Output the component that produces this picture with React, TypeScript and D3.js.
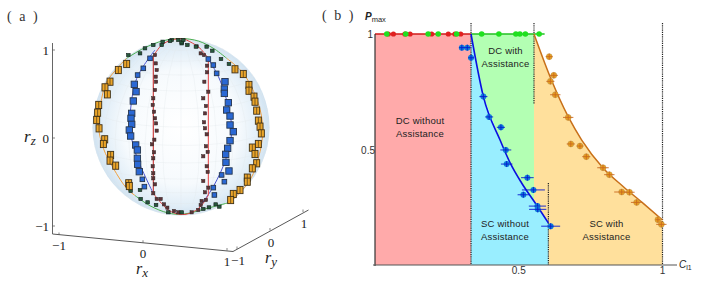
import React from "react";
import * as d3 from "d3";

type Pt = [number, number];

const sphereOrange: Pt[] = [
  [-0.614, 0.712], [-0.708, 0.644], [-0.802, 0.512], [-0.859, 0.448], [-0.832, 0.369], [-0.93, 0.249],
  [-0.942, 0.162], [-0.953, 0.079], [-0.926, -0.015], [-0.862, -0.139], [-0.877, -0.192], [-0.795, -0.316],
  [-0.802, -0.38], [-0.738, -0.437], [-0.591, -0.636], [-0.584, -0.667],
  [0.61, 0.652], [0.704, 0.599], [0.768, 0.475], [0.768, 0.41], [0.825, 0.343], [0.836, 0.286],
  [0.855, 0.185], [0.874, 0.072], [0.893, 0.004], [0.908, -0.072], [0.874, -0.192], [0.806, -0.233],
  [0.836, -0.305], [0.855, -0.41], [0.806, -0.467], [0.749, -0.572], [0.749, -0.618], [0.667, -0.712],
  [0.591, -0.757], [0.561, -0.825],
];
const sphereBlue: Pt[] = [
  [-0.35, 0.776], [-0.426, 0.663], [-0.49, 0.587], [-0.527, 0.482], [-0.508, 0.399], [-0.539, 0.294],
  [-0.557, 0.154], [-0.565, 0.098], [-0.557, 0.03], [-0.584, -0.034], [-0.569, -0.102], [-0.512, -0.203],
  [-0.493, -0.26], [-0.493, -0.354], [-0.49, -0.422], [-0.471, -0.505], [-0.437, -0.591], [-0.414, -0.674],
  [0.309, 0.768], [0.365, 0.7], [0.403, 0.606], [0.497, 0.512], [0.49, 0.429], [0.49, 0.38],
  [0.535, 0.275], [0.516, 0.192], [0.554, 0.124], [0.554, 0.023], [0.591, -0.053], [0.554, -0.154],
  [0.527, -0.241], [0.505, -0.309], [0.508, -0.399], [0.542, -0.497], [0.459, -0.542], [0.49, -0.618],
  [0.365, -0.685], [0.377, -0.768],
];
// sizes shrink toward the poles in the reference
const blueSmallFrom = new Set([0, 1, 2, 18, 19, 20, 34, 35, 36, 37, 16, 17]);
const sphereMaroon: Pt[] = [
  [-0.294, 0.813], [-0.286, 0.719], [-0.275, 0.644], [-0.286, 0.569], [-0.282, 0.512], [-0.294, 0.418],
  [-0.313, 0.324], [-0.32, 0.249], [-0.305, 0.173], [-0.294, 0.098], [-0.282, 0.041], [-0.275, -0.041],
  [-0.301, -0.143], [-0.328, -0.196], [-0.305, -0.286], [-0.313, -0.354], [-0.32, -0.444], [-0.313, -0.523],
  [-0.313, -0.58], [-0.294, -0.648], [-0.313, -0.749], [-0.275, -0.813], [-0.23, -0.813], [-0.192, -0.874],
  [-0.154, -0.911], [-0.079, -0.949], [-0.03, -0.964],
  [0.177, 0.911], [0.222, 0.832], [0.26, 0.813], [0.294, 0.693], [0.294, 0.618], [0.264, 0.512],
  [0.309, 0.399], [0.252, 0.324], [0.282, 0.237], [0.271, 0.154], [0.26, 0.053], [0.271, -0.015],
  [0.29, -0.083], [0.282, -0.218], [0.301, -0.282], [0.252, -0.331], [0.29, -0.444], [0.301, -0.508],
  [0.252, -0.61], [0.309, -0.685], [0.271, -0.738], [0.282, -0.825], [0.233, -0.836], [0.222, -0.881],
  [0.196, -0.938], [0.12, -0.964],
];
const sphereGreen: Pt[] = [
  [-0.595, 0.813], [-0.463, 0.832], [-0.407, 0.889], [-0.313, 0.926], [-0.207, 0.964], [-0.105, 0.983],
  [-0.03, 0.983], [0.008, 0.945], [-0.218, 0.926], [-0.124, 0.971], [0.008, 0.957], [0.072, 0.926],
  [0.169, 0.908], [0.29, 0.908], [0.354, 0.862], [0.452, 0.768], [0.542, 0.712], [0.026, 0.983],
  [-0.569, -0.723], [-0.463, -0.712], [-0.456, -0.813], [-0.377, -0.851], [-0.282, -0.881], [-0.143, -0.964],
  [0.008, -0.964], [0.377, -0.768], [0.433, -0.9], [0.392, -0.874], [0.316, -0.908], [0.252, -0.926],
];

const orangeLeftCurve: Pt[] = [[-0.614, 0.776], [-0.84, 0.51], [-0.896, 0.324], [-0.934, 0.023], [-0.877, -0.241], [-0.764, -0.467], [-0.614, -0.693], [-0.52, -0.774]];
const orangeRightCurve: Pt[] = [[0.516, 0.776], [0.704, 0.606], [0.874, 0.267], [0.923, -0.015], [0.893, -0.279], [0.78, -0.6], [0.554, -0.851]];
const greenTopCurve: Pt[] = [[-0.614, 0.776], [-0.42, 0.89], [-0.2, 0.975], [0, 1], [0.2, 0.97], [0.38, 0.88], [0.516, 0.776]];
const greenBottomCurve: Pt[] = [[-0.52, -0.774], [-0.35, -0.89], [-0.15, -0.97], [0.02, -0.985], [0.33, -0.91], [0.554, -0.851]];
const blueLeftCurve: Pt[] = [[-0.294, 0.87], [-0.5, 0.55], [-0.576, 0.117], [-0.569, -0.07], [-0.5, -0.335], [-0.305, -0.768]];
const blueRightCurve: Pt[] = [[0.309, 0.768], [0.44, 0.53], [0.572, 0.004], [0.516, -0.335], [0.365, -0.674], [0.233, -0.87]];
const redTopCurve: Pt[] = [[-0.313, 0.8], [-0.218, 0.926], [-0.1, 0.985], [0.02, 0.995], [0.1, 0.964], [0.215, 0.889], [0.309, 0.776]];
const redBottomCurve: Pt[] = [[-0.313, -0.75], [-0.143, -0.938], [-0.011, -0.987], [0.1, -0.975], [0.22, -0.9], [0.309, -0.77]];
const redLeftLine: Pt[] = [[-0.313, 0.8], [-0.313, -0.75]];
const redRightLine: Pt[] = [[0.309, 0.776], [0.309, -0.77]];

const axisTicks = [-1, 0, 1];

// panel (b)
const topGreenC = [0.041, 0.107, 0.185, 0.22, 0.284, 0.371, 0.431, 0.49, 0.504, 0.523, 0.571];
const topRedC = [0.046, 0.064, 0.104, 0.122, 0.197, 0.255, 0.278, 0.298];
const blueC = [0.302, 0.321, 0.334, 0.377, 0.397, 0.438, 0.455, 0.458, 0.53, 0.551, 0.516, 0.565, 0.566, 0.611];
const blueP = [0.941, 0.941, 0.897, 0.729, 0.641, 0.596, 0.498, 0.437, 0.378, 0.325, 0.304, 0.255, 0.241, 0.168];
const blueErr = [0.01, 0.012, 0.01, 0.014, 0.014, 0.014, 0.019, 0.02, 0.022, 0.04, 0.02, 0.03, 0.03, 0.033];
const orangeC = [0.606, 0.622, 0.61, 0.627, 0.672, 0.681, 0.713, 0.735, 0.793, 0.815, 0.858, 0.885, 0.91, 0.984, 0.996];
const orangeP = [0.902, 0.821, 0.795, 0.737, 0.639, 0.524, 0.515, 0.469, 0.421, 0.391, 0.316, 0.315, 0.271, 0.196, 0.176];
const orangeErr = [0.012, 0.014, 0.014, 0.018, 0.018, 0.014, 0.012, 0.014, 0.02, 0.018, 0.026, 0.018, 0.02, 0.008, 0.018];
const blueCurve: Pt[] = [[0.334, 1], [0.377, 0.729], [0.435, 0.541], [0.47, 0.442], [0.51, 0.355], [0.562, 0.26], [0.603, 0.182]];
const orangeCurve: Pt[] = [[0.553, 1], [0.609, 0.815], [0.672, 0.642], [0.719, 0.541], [0.794, 0.419], [0.864, 0.339], [0.933, 0.267], [1, 0.195]];
const cDc = 0.334;
const cMid = 0.553;
const cSc = 0.603;

const serif = "'Liberation Serif', serif";
const sans = "'Liberation Sans', sans-serif";

// sphere scales
const sx = d3.scaleLinear().domain([-1, 1]).range([92.5, 269.5]);
const sz = d3.scaleLinear().domain([-1, 1]).range([215.5, 38.5]);
const sphereLine = d3.line<Pt>().x((d) => sx(d[0])).y((d) => sz(d[1]));
const sphereCurve = d3.line<Pt>().x((d) => sx(d[0])).y((d) => sz(d[1])).curve(d3.curveCatmullRom);

const projection = d3.geoOrthographic().scale(88.5).translate([181, 127]).rotate([0, -12]).clipAngle(90);
const geoPath = d3.geoPath(projection);
const graticule = d3.geoGraticule().step([12, 12])();

// box axes of the 3D frame
const zAxis = d3.scaleLinear().domain([-1, 1]).range([226, 50]);
const xAxisX = d3.scaleLinear().domain([-1, 1]).range([59, 227]);
const xAxisY = d3.scaleLinear().domain([-1, 1]).range([235, 250.5]);
const yAxisX = d3.scaleLinear().domain([-1, 1]).range([237, 303]);
const yAxisY = d3.scaleLinear().domain([-1, 1]).range([249, 212]);

// phase diagram scales
const x = d3.scaleLinear().domain([0, 1]).range([375, 662.5]);
const y = d3.scaleLinear().domain([0, 1]).range([265, 34]);
const pLine = d3.line<Pt>().x((d) => x(d[0])).y((d) => y(d[1]));
const pCurve = d3.line<Pt>().x((d) => x(d[0])).y((d) => y(d[1])).curve(d3.curveMonotoneX);

const cyanArea: Pt[] = [[cDc, 0], ...blueCurve, [cSc, 0]];
const greenArea: Pt[] = [...blueCurve.filter((d) => d[0] <= cMid), [cMid, 0.275], [cMid, 1]];
const orangeArea: Pt[] = [...orangeCurve, [1, 0], [cSc, 0], ...[...blueCurve].reverse().filter((d) => d[0] >= cMid), [cMid, 0.275]];

const dotted = (cx: number, y1: number, y2: number, key: string) => (
  <line key={key} x1={x(cx)} x2={x(cx)} y1={y1} y2={y2} stroke="#222" strokeWidth={1.2} strokeDasharray="1.2 1" />
);

const regionText = (lines: string[], cx: number, yTop: number) =>
  lines.map((t, i) => (
    <text key={t} x={cx} y={yTop + i * 13} textAnchor="middle" fontFamily={sans} fontSize={9.5} letterSpacing={0.2} fill="#222">
      {t}
    </text>
  ));

const tickText = (t: number) => (t === -1 ? "\u22121" : String(t));

const App = () => {
  return (
    <svg width={706} height={283} style={{ position: "absolute", left: 0, top: 0, background: "#fff" }}>
      <defs>
        <radialGradient id="ball" cx="50%" cy="50%" r="50%">
          <stop offset="0%" stopColor="#ffffff" />
          <stop offset="65%" stopColor="#f6fafd" />
          <stop offset="90%" stopColor="#e0edf7" />
          <stop offset="100%" stopColor="#cfe2f1" />
        </radialGradient>
        <filter id="soft" x="-5%" y="-5%" width="110%" height="110%">
          <feGaussianBlur stdDeviation="0.35" />
        </filter>
      </defs>

      {/* panel a */}
      <text x={7} y={21} fontFamily={serif} fontSize={14} fill="#333" letterSpacing={2}>( a )</text>

      <circle cx={sx(0)} cy={sz(0)} r={88.5} fill="url(#ball)" />
      <path d={geoPath(graticule) ?? ""} fill="none" stroke="#e2e9ec" strokeWidth={0.5} opacity={0.7} />

      <g filter="url(#soft)">
        <path d={sphereCurve(orangeLeftCurve) ?? ""} fill="none" stroke="#f0a040" strokeWidth={1} />
        <path d={sphereCurve(orangeRightCurve) ?? ""} fill="none" stroke="#f0a040" strokeWidth={1} />
        <path d={sphereCurve(greenTopCurve) ?? ""} fill="none" stroke="#4caf50" strokeWidth={1} />
        <path d={sphereCurve(greenBottomCurve) ?? ""} fill="none" stroke="#4caf50" strokeWidth={1} />
        <path d={sphereCurve(blueLeftCurve) ?? ""} fill="none" stroke="#4a55d0" strokeWidth={1} />
        <path d={sphereCurve(blueRightCurve) ?? ""} fill="none" stroke="#4a55d0" strokeWidth={1} />
        <path d={sphereCurve(redTopCurve) ?? ""} fill="none" stroke="#e04040" strokeWidth={1} />
        <path d={sphereCurve(redBottomCurve) ?? ""} fill="none" stroke="#e04040" strokeWidth={1} />
        <path d={sphereLine(redLeftLine) ?? ""} fill="none" stroke="#c83030" strokeWidth={1.1} />
        <path d={sphereLine(redRightLine) ?? ""} fill="none" stroke="#e85050" strokeWidth={1.1} />

        {sphereMaroon.map((d, i) => (
          <rect key={`m${i}`} x={sx(d[0]) - 1.6} y={sz(d[1]) - 1.6} width={3.2} height={3.2} fill="#5c3438" stroke="#2e2222" strokeWidth={0.5} />
        ))}
        {sphereGreen.map((d, i) => (
          <rect key={`g${i}`} x={sx(d[0]) - 1.8} y={sz(d[1]) - 1.6} width={3.6} height={3.2} fill="#27583c" stroke="#141f1c" strokeWidth={0.6} />
        ))}
        {sphereBlue.map((d, i) => {
          const s = blueSmallFrom.has(i) ? 2.3 : 3.2;
          return (
            <rect key={`b${i}`} x={sx(d[0]) - s} y={sz(d[1]) - s} width={2 * s} height={2 * s} fill="#2a68d4" stroke="#26364e" strokeWidth={0.9} />
          );
        })}
        {sphereOrange.map((d, i) => (
          <g key={`o${i}`}>
            <rect x={sx(d[0]) - 3} y={sz(d[1]) - 3.6} width={6} height={7.2} fill="#eba52a" stroke="#3e3018" strokeWidth={0.9} />
            <line x1={sx(d[0])} x2={sx(d[0])} y1={sz(d[1]) - 3.4} y2={sz(d[1]) + 3.4} stroke="#4a3818" strokeWidth={0.7} />
          </g>
        ))}
      </g>

      {/* 3D box axes */}
      <line x1={52.5} x2={52.5} y1={43} y2={234} stroke="#555" strokeWidth={0.9} />
      <line x1={52.5} x2={233} y1={234} y2={251.5} stroke="#444" strokeWidth={0.9} />
      <line x1={233} x2={308.5} y1={251.5} y2={210} stroke="#444" strokeWidth={0.9} />
      {axisTicks.map((t) => (
        <g key={`t${t}`}>
          <line x1={52.5} x2={55} y1={zAxis(t)} y2={zAxis(t)} stroke="#555" strokeWidth={0.7} />
          <line x1={xAxisX(t)} x2={xAxisX(t)} y1={xAxisY(t)} y2={xAxisY(t) - 2.5} stroke="#555" strokeWidth={0.7} />
          <line x1={yAxisX(t)} x2={yAxisX(t)} y1={yAxisY(t)} y2={yAxisY(t) - 2.5} stroke="#555" strokeWidth={0.7} />
          <text x={49} y={zAxis(t) + 5} textAnchor="end" fontFamily={serif} fontSize={13} fill="#222">{tickText(t)}</text>
          <text x={xAxisX(t)} y={xAxisY(t) + 15} textAnchor="middle" fontFamily={serif} fontSize={13} fill="#222">{tickText(t)}</text>
          <text x={yAxisX(t) + 1} y={yAxisY(t) + 16} textAnchor="middle" fontFamily={serif} fontSize={13} fill="#222">{tickText(t)}</text>
        </g>
      ))}
      <text x={24} y={142} fontFamily={serif} fontSize={17} fontStyle="italic" fill="#222">r<tspan fontSize={13} dy={3}>z</tspan></text>
      <text x={136} y={274} fontFamily={serif} fontSize={16} fontStyle="italic" fill="#222">r<tspan fontSize={13} dy={3}>x</tspan></text>
      <text x={265} y={263} fontFamily={serif} fontSize={16} fontStyle="italic" fill="#222">r<tspan fontSize={13} dy={3}>y</tspan></text>

      {/* panel b */}
      <text x={322} y={20} fontFamily={serif} fontSize={14} fill="#333" letterSpacing={2}>( b )</text>

      <rect x={x(0)} y={y(1)} width={x(cDc) - x(0)} height={y(0) - y(1)} fill="#ffaaaa" />
      <path d={(pLine(greenArea) ?? "") + "Z"} fill="#b3ffb3" />
      <path d={(pLine(orangeArea) ?? "") + "Z"} fill="#ffe09c" />
      <path d={(pLine(cyanArea) ?? "") + "Z"} fill="#99eeff" />

      {dotted(cDc, 23, 265, "d1")}
      {dotted(cMid, 23, 104, "d2")}
      {dotted(cSc, 183, 265, "d3")}
      {dotted(1, 23, 265, "d4")}

      <line x1={x(0)} x2={x(cDc)} y1={y(1)} y2={y(1)} stroke="#d01818" strokeWidth={1.4} />
      <line x1={x(cDc)} x2={x(0.59)} y1={y(1)} y2={y(1)} stroke="#20c020" strokeWidth={1.4} />
      <path d={pCurve(orangeCurve) ?? ""} fill="none" stroke="#c8701a" strokeWidth={1.5} />
      <path d={pCurve(blueCurve) ?? ""} fill="none" stroke="#0a10e0" strokeWidth={1.6} />

      {topRedC.map((c, i) => (
        <circle key={`r${i}`} cx={x(c)} cy={y(1)} r={2.6} fill="#e02020" />
      ))}
      {topGreenC.map((c, i) => (
        <circle key={`tg${i}`} cx={x(c)} cy={y(1)} r={2.8} fill="#20e020" />
      ))}

      {orangeC.map((c, i) => (
        <g key={`oc${i}`}>
          <circle cx={x(c)} cy={y(orangeP[i])} r={3} fill="#e8a020" stroke="#b89050" strokeWidth={0.5} />
          <line x1={x(c - orangeErr[i])} x2={x(c + orangeErr[i])} y1={y(orangeP[i])} y2={y(orangeP[i])} stroke="#c86a20" strokeWidth={0.9} />
          <line x1={x(c)} x2={x(c)} y1={y(orangeP[i]) - 3} y2={y(orangeP[i]) + 3} stroke="#c86a20" strokeWidth={0.9} />
        </g>
      ))}
      {blueC.map((c, i) => (
        <g key={`bc${i}`}>
          <circle cx={x(c)} cy={y(blueP[i])} r={3} fill="#1080d8" />
          <line x1={x(c - blueErr[i])} x2={x(c + blueErr[i])} y1={y(blueP[i])} y2={y(blueP[i])} stroke="#0818d0" strokeWidth={0.9} />
          <line x1={x(c)} x2={x(c)} y1={y(blueP[i]) - 3} y2={y(blueP[i]) + 3} stroke="#0818d0" strokeWidth={0.9} />
        </g>
      ))}

      {regionText(["DC without", "Assistance"], 420, 124)}
      {regionText(["DC with", "Assistance"], 505.5, 54)}
      {regionText(["SC without", "Assistance"], 505, 227)}
      {regionText(["SC with", "Assistance"], 606.5, 227)}

      {/* axes */}
      <line x1={x(0)} x2={x(0)} y1={y(1)} y2={y(0) + 1} stroke="#333" strokeWidth={1.2} />
      <line x1={x(0) - 2} x2={677} y1={y(0)} y2={y(0)} stroke="#555" strokeWidth={1.2} />
      <text x={373} y={38} textAnchor="end" fontFamily={sans} fontSize={10} fill="#333">1</text>
      <text x={375} y={153.5} textAnchor="end" fontFamily={sans} fontSize={10} fill="#333">0.5</text>
      <text x={x(0.5)} y={274} textAnchor="middle" fontFamily={sans} fontSize={10} fill="#333">0.5</text>
      <text x={x(1)} y={274} textAnchor="middle" fontFamily={sans} fontSize={10} fill="#333">1</text>
      <text x={365} y={20} fontFamily={sans} fontSize={10} fontStyle="italic" fontWeight="bold" fill="#222">P<tspan fontSize={7.5} fontStyle="normal" fontWeight="normal" dy={2}>max</tspan></text>
      <text x={679} y={268} fontFamily={sans} fontSize={10} fontStyle="italic" fill="#222">C<tspan fontSize={7} fontStyle="normal" dy={2}>l1</tspan></text>
    </svg>
  );
};

export default App;
